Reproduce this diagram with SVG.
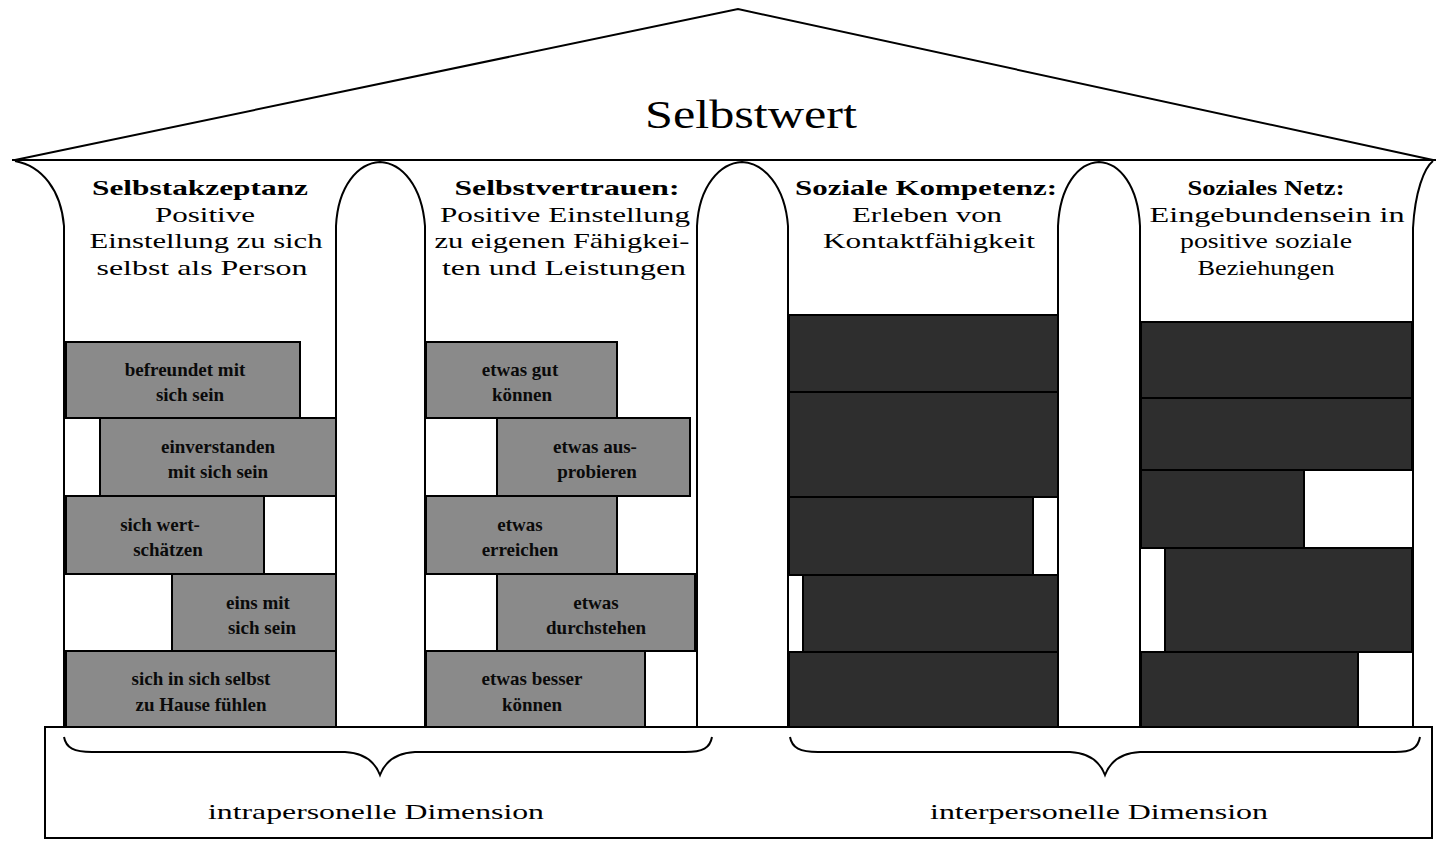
<svg xmlns="http://www.w3.org/2000/svg" width="1439" height="841" viewBox="0 0 1439 841">
<style>
.ln{fill:none;stroke:#000;stroke-width:2}
.t{font-family:"Liberation Serif","Times New Roman",serif;fill:#000;text-anchor:middle}
.hd{font-size:21px}
.hb{font-size:21px;font-weight:bold}
.bl{fill:#8a8a8a;stroke:#000;stroke-width:2}
.bd{fill:#2e2e2e;stroke:#000;stroke-width:2}
.bt{font-family:"Liberation Serif","Times New Roman",serif;font-size:19px;font-weight:bold;fill:#0a0a0a;text-anchor:middle}
</style>
<rect width="1439" height="841" fill="#fff"/>
<g id="roof">
<polyline class="ln" points="15,160 738,9 1433,160"/>
<line class="ln" x1="12" y1="160" x2="1436" y2="160" stroke-width="2.5"/>
<text class="t" x="751" y="128" font-size="41" textLength="212" lengthAdjust="spacingAndGlyphs">Selbstwert</text>
</g>
<g id="columns-outline">
<path class="ln" d="M15,161 C42,166 61,190 64,226 L64,727"/>
<path class="ln" d="M336,727 L336,226 C338,186 358,163 380,162 C402,163 422,186 425,226 L425,727"/>
<path class="ln" d="M697,727 L697,226 C699,186 720,163 742,162 C764,163 785,186 788,226 L788,727"/>
<path class="ln" d="M1058,727 L1058,226 C1060,186 1078,163 1099,162 C1120,163 1138,186 1140,226 L1140,727"/>
<path class="ln" d="M1413,727 L1413,228 C1415,192 1424,168 1433,161"/>
</g>
<g id="col1">
<text class="t hb" x="200" y="195" textLength="216" lengthAdjust="spacingAndGlyphs">Selbstakzeptanz</text>
<text class="t hd" x="205" y="222" textLength="100" lengthAdjust="spacingAndGlyphs">Positive</text>
<text class="t hd" x="206" y="248" textLength="233" lengthAdjust="spacingAndGlyphs">Einstellung zu sich</text>
<text class="t hd" x="202" y="275" textLength="211" lengthAdjust="spacingAndGlyphs">selbst als Person</text>
<rect class="bl" x="66" y="342" width="234" height="76"/>
<rect class="bl" x="100" y="418" width="236" height="78"/>
<rect class="bl" x="66" y="496" width="198" height="78"/>
<rect class="bl" x="172" y="574" width="164" height="77"/>
<rect class="bl" x="66" y="651" width="270" height="76"/>
<text class="bt" x="185" y="376">befreundet mit</text>
<text class="bt" x="190" y="401">sich sein</text>
<text class="bt" x="218" y="453">einverstanden</text>
<text class="bt" x="218" y="478">mit sich sein</text>
<text class="bt" x="160" y="531">sich wert-</text>
<text class="bt" x="168" y="556">schätzen</text>
<text class="bt" x="258" y="609">eins mit</text>
<text class="bt" x="262" y="634">sich sein</text>
<text class="bt" x="201" y="685">sich in sich selbst</text>
<text class="bt" x="201" y="711">zu Hause fühlen</text>
</g>
<g id="col2">
<text class="t hb" x="567" y="195" textLength="225" lengthAdjust="spacingAndGlyphs">Selbstvertrauen:</text>
<text class="t hd" x="565" y="222" textLength="250" lengthAdjust="spacingAndGlyphs">Positive Einstellung</text>
<text class="t hd" x="562" y="248" textLength="255" lengthAdjust="spacingAndGlyphs">zu eigenen Fähigkei-</text>
<text class="t hd" x="564" y="275" textLength="244" lengthAdjust="spacingAndGlyphs">ten und Leistungen</text>
<rect class="bl" x="426" y="342" width="191" height="76"/>
<rect class="bl" x="497" y="418" width="193" height="78"/>
<rect class="bl" x="426" y="496" width="191" height="78"/>
<rect class="bl" x="497" y="574" width="198" height="77"/>
<rect class="bl" x="426" y="651" width="219" height="76"/>
<text class="bt" x="520" y="376">etwas gut</text>
<text class="bt" x="522" y="401">können</text>
<text class="bt" x="595" y="453">etwas aus-</text>
<text class="bt" x="597" y="478">probieren</text>
<text class="bt" x="520" y="531">etwas</text>
<text class="bt" x="520" y="556">erreichen</text>
<text class="bt" x="596" y="609">etwas</text>
<text class="bt" x="596" y="634">durchstehen</text>
<text class="bt" x="532" y="685">etwas besser</text>
<text class="bt" x="532" y="711">können</text>
</g>
<g id="col3">
<text class="t hb" x="926" y="195" textLength="262" lengthAdjust="spacingAndGlyphs">Soziale Kompetenz:</text>
<text class="t hd" x="927" y="222" textLength="150" lengthAdjust="spacingAndGlyphs">Erleben von</text>
<text class="t hd" x="929" y="248" textLength="212" lengthAdjust="spacingAndGlyphs">Kontaktfähigkeit</text>
<rect class="bd" x="789" y="315" width="269" height="77"/>
<rect class="bd" x="789" y="392" width="269" height="105"/>
<rect class="bd" x="789" y="497" width="244" height="78"/>
<rect class="bd" x="803" y="575" width="255" height="77"/>
<rect class="bd" x="789" y="652" width="269" height="75"/>
</g>
<g id="col4">
<text class="t hb" x="1266" y="195" textLength="157" lengthAdjust="spacingAndGlyphs">Soziales Netz:</text>
<text class="t hd" x="1277" y="222" textLength="255" lengthAdjust="spacingAndGlyphs">Eingebundensein in</text>
<text class="t hd" x="1266" y="248" textLength="172" lengthAdjust="spacingAndGlyphs">positive soziale</text>
<text class="t hd" x="1266" y="275" textLength="137" lengthAdjust="spacingAndGlyphs">Beziehungen</text>
<rect class="bd" x="1141" y="322" width="271" height="76"/>
<rect class="bd" x="1141" y="398" width="271" height="72"/>
<rect class="bd" x="1141" y="470" width="163" height="78"/>
<rect class="bd" x="1165" y="548" width="247" height="104"/>
<rect class="bd" x="1141" y="652" width="217" height="75"/>
</g>
<g id="base">
<rect x="45" y="727" width="1387" height="111" fill="none" stroke="#000" stroke-width="2"/>
</g>
<g id="connectors">
<path class="ln" d="M64,737 C66,748 74,752 92,752 L345,752 C365,753 375,762 380,775 C385,762 395,753 415,752 L685,752 C703,752 710,748 712,737"/>
<path class="ln" d="M790,737 C792,748 800,752 818,752 L1070,752 C1090,753 1100,762 1105,775 C1110,762 1120,753 1140,752 L1395,752 C1412,752 1418,748 1420,737"/>
</g>
<g id="labels">
<text class="t" x="376" y="819" font-size="21" textLength="336" lengthAdjust="spacingAndGlyphs">intrapersonelle Dimension</text>
<text class="t" x="1099" y="819" font-size="21" textLength="338" lengthAdjust="spacingAndGlyphs">interpersonelle Dimension</text>
</g>
</svg>
